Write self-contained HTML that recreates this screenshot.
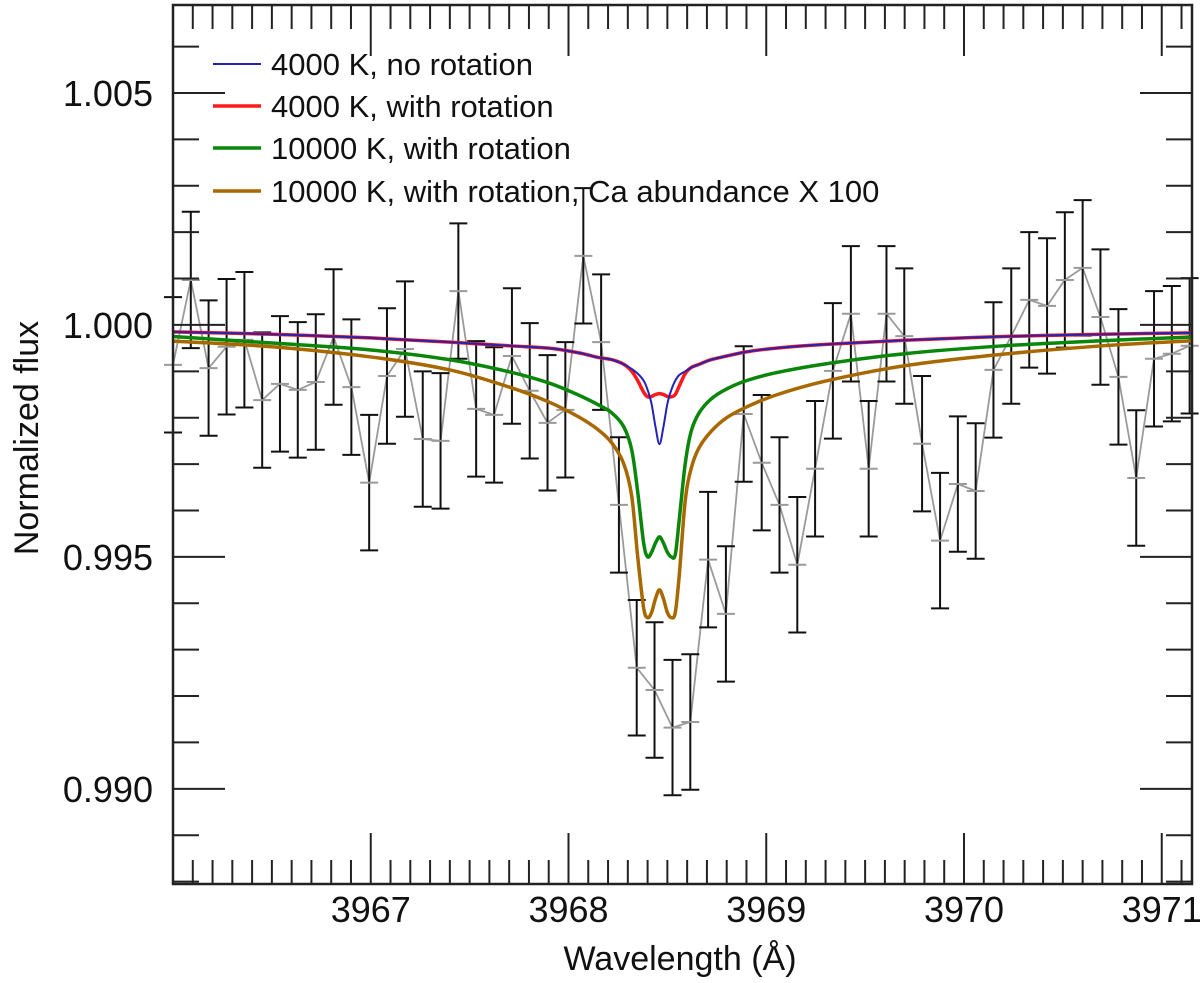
<!DOCTYPE html>
<html><head><meta charset="utf-8"><title>Normalized flux vs wavelength</title>
<style>
html,body{margin:0;padding:0;background:#fff;}
svg{display:block;font-family:"Liberation Sans",Arial,sans-serif;}
</style></head>
<body>
<svg id="chart" width="1200" height="983" viewBox="0 0 1200 983" xmlns="http://www.w3.org/2000/svg">
  <g id="data-layer"></g>
  <g id="model-layer"></g>
  <g id="axes-layer"></g>
  <g id="legend"></g>
  <text x="680" y="970" font-size="34" text-anchor="middle" fill="#111">Wavelength (Å)</text>
  <text transform="translate(38,438) rotate(-90)" font-size="34" text-anchor="middle" fill="#111">Normalized flux</text>
</svg>
<script>
// Observed data
const obsWave = [3966.000,3966.090,3966.180,3966.271,3966.361,3966.451,3966.541,3966.631,3966.722,3966.812,3966.902,3966.992,3967.082,3967.173,3967.263,3967.353,3967.443,3967.533,3967.624,3967.714,3967.804,3967.894,3967.984,3968.075,3968.165,3968.255,3968.345,3968.435,3968.526,3968.616,3968.706,3968.796,3968.886,3968.977,3969.067,3969.157,3969.247,3969.337,3969.428,3969.518,3969.608,3969.698,3969.788,3969.879,3969.969,3970.059,3970.149,3970.239,3970.330,3970.420,3970.510,3970.600,3970.690,3970.781,3970.871,3970.961,3971.051,3971.141];
const obsFlux = [0.99914,1.00097,0.99907,0.99953,0.99968,0.99838,0.99873,0.99860,0.99877,0.99974,0.99866,0.99660,0.99890,0.99948,0.99754,0.99750,1.00073,0.99819,0.99806,0.99933,0.99858,0.99789,0.99817,1.00149,0.99963,0.99612,0.99261,0.99213,0.99132,0.99144,0.99494,0.99377,0.99808,0.99703,0.99612,0.99483,0.99690,0.99901,1.00024,0.99690,1.00024,0.99976,0.99744,0.99535,0.99657,0.99642,0.99903,0.99976,1.00054,1.00041,1.00097,1.00123,1.00017,0.99888,0.99670,0.99927,0.99938,0.99955];
const obsErr = [0.00146,0.00147,0.00146,0.00146,0.00146,0.00146,0.00146,0.00146,0.00146,0.00146,0.00146,0.00146,0.00146,0.00146,0.00146,0.00146,0.00146,0.00146,0.00146,0.00146,0.00146,0.00146,0.00146,0.00146,0.00146,0.00146,0.00146,0.00146,0.00146,0.00146,0.00146,0.00146,0.00146,0.00146,0.00146,0.00146,0.00146,0.00146,0.00146,0.00146,0.00146,0.00146,0.00146,0.00146,0.00146,0.00146,0.00146,0.00146,0.00146,0.00146,0.00146,0.00146,0.00146,0.00146,0.00146,0.00146,0.00146,0.00146];
// Model spectra (shared wavelength grid)
const modelWave = [3966.0,3966.5,3967.0,3967.4,3967.7,3967.9,3968.05,3968.15,3968.22,3968.28,3968.32,3968.35,3968.38,3968.40,3968.42,3968.44,3968.46,3968.48,3968.50,3968.52,3968.54,3968.56,3968.59,3968.62,3968.66,3968.72,3968.80,3968.90,3969.05,3969.3,3969.7,3970.2,3970.7,3971.15];
const flux4000NoRot = [0.99985,0.99980,0.99972,0.99963,0.99955,0.99950,0.99940,0.99930,0.99925,0.99915,0.99905,0.99895,0.99880,0.99860,0.99830,0.99780,0.99743,0.99780,0.99830,0.99860,0.99880,0.99892,0.99900,0.99908,0.99915,0.99925,0.99933,0.99942,0.99950,0.99958,0.99967,0.99975,0.99980,0.99983];
const flux4000Rot = [0.99985,0.99980,0.99972,0.99963,0.99955,0.99950,0.99940,0.99930,0.99925,0.99915,0.99900,0.99880,0.99855,0.99845,0.99846,0.99850,0.99852,0.99850,0.99846,0.99845,0.99850,0.99868,0.99895,0.99908,0.99915,0.99925,0.99933,0.99942,0.99950,0.99958,0.99967,0.99975,0.99980,0.99983];
const flux10000Rot = [0.99975,0.99961,0.99946,0.99925,0.99899,0.99875,0.99849,0.99828,0.99810,0.99780,0.99730,0.99640,0.99530,0.99500,0.99510,0.99530,0.99543,0.99530,0.99510,0.99500,0.99505,0.99580,0.99700,0.99770,0.99810,0.99840,0.99862,0.99880,0.99897,0.99916,0.99938,0.99955,0.99966,0.99974];
const flux10000RotCa = [0.99965,0.99953,0.99931,0.99903,0.99866,0.99834,0.99802,0.99774,0.99745,0.99700,0.99630,0.99500,0.99390,0.99369,0.99380,0.99410,0.99429,0.99410,0.99380,0.99369,0.99380,0.99460,0.99620,0.99690,0.99735,0.99770,0.99800,0.99823,0.99849,0.99879,0.99912,0.99937,0.99955,0.99966];
// Axis tick labels
const xTickLabels = [3967,3968,3969,3970,3971];
const yTickLabels = ["0.990","0.995","1.000","1.005"];
const legendLabels = ["4000 K, no rotation","4000 K, with rotation","10000 K, with rotation","10000 K, with rotation, Ca abundance X 100"];

const NS = "http://www.w3.org/2000/svg";
const L = 173, R = 1192, T = 5, B = 884;
const xMin = 3966.0, xMax = 3971.153;
const yMin = 0.987948, yMax = 1.006897;
function xs(v){ return L + (v - xMin) / (xMax - xMin) * (R - L); }
function ys(v){ return B - (v - yMin) / (yMax - yMin) * (B - T); }
function mk(tag, attrs, parent){
  const e = document.createElementNS(NS, tag);
  for (const k in attrs) e.setAttribute(k, attrs[k]);
  parent.appendChild(e);
  return e;
}
const dataG = document.getElementById('data-layer');
const modelG = document.getElementById('model-layer');
const axesG = document.getElementById('axes-layer');
const legG = document.getElementById('legend');

let pts = obsWave.map((w,i)=> xs(w).toFixed(1)+','+ys(obsFlux[i]).toFixed(1)).join(' ');
const pl = mk('polyline', {points: pts, fill:'none', stroke:'#9a9a9a', 'stroke-width':'1.8'}, dataG);


obsWave.forEach((w,i)=>{
  const x = xs(w), y1 = ys(obsFlux[i] + obsErr[i]), y2 = ys(obsFlux[i] - obsErr[i]), yc = ys(obsFlux[i]);
  const g = mk('g', {}, dataG);
  
  
  mk('line', {x1:x, x2:x, y1:y1, y2:y2, stroke:'#111', 'stroke-width':'2'}, g);
  mk('line', {x1:x-9, x2:x+9, y1:y1, y2:y1, stroke:'#111', 'stroke-width':'2'}, g);
  mk('line', {x1:x-9, x2:x+9, y1:y2, y2:y2, stroke:'#111', 'stroke-width':'2'}, g);
  const c = mk('line', {x1:x-9, x2:x+9, y1:yc, y2:yc, stroke:'#9a9a9a', 'stroke-width':'2'}, dataG);
  
  
});

function smoothPath(xsArr, ysArr){
  const P = xsArr.map((w,i)=>[xs(w), ys(ysArr[i])]);
  let d = 'M'+P[0][0].toFixed(2)+','+P[0][1].toFixed(2);
  for (let i=0;i<P.length-1;i++){
    const p0 = P[Math.max(0,i-1)], p1 = P[i], p2 = P[i+1], p3 = P[Math.min(P.length-1,i+2)];
    const t = 1/6;
    const c1 = [p1[0]+(p2[0]-p0[0])*t, p1[1]+(p2[1]-p0[1])*t];
    const c2 = [p2[0]-(p3[0]-p1[0])*t, p2[1]-(p3[1]-p1[1])*t];
    d += ' C'+c1[0].toFixed(2)+','+c1[1].toFixed(2)+' '+c2[0].toFixed(2)+','+c2[1].toFixed(2)+' '+p2[0].toFixed(2)+','+p2[1].toFixed(2);
  }
  return d;
}
const series = [
  {vals: flux10000RotCa, color:'#a86800', w:3.5, name:'model-10000k-rotation-ca'},
  {vals: flux10000Rot, color:'#0a870a', w:3.5, name:'model-10000k-rotation'},
  {vals: flux4000Rot, color:'#ff1a1a', w:3.5, name:'model-4000k-rotation'},
  {vals: flux4000NoRot, color:'#2424b4', w:2, name:'model-4000k-no-rotation'}
];
series.forEach(s=>{
  const p = mk('path', {d: smoothPath(modelWave, s.vals), fill:'none', stroke:s.color, 'stroke-width':s.w, 'stroke-linejoin':'round'}, modelG);
  
  
});

const frame = mk('rect', {x:L, y:T, width:R-L, height:B-T, fill:'none', stroke:'#222', 'stroke-width':'2.5'}, axesG);


for (let k=0;k<=52;k++){
  const v = 3966.0 + k*0.1;
  if (v > xMax) break;
  const x = xs(v);
  const major = Math.abs(v - Math.round(v)) < 1e-6;
  const len = major ? 51 : 24;
  mk('line', {x1:x, x2:x, y1:B, y2:B-len, stroke:'#222', 'stroke-width':'2'}, axesG);
  mk('line', {x1:x, x2:x, y1:T, y2:T+len, stroke:'#222', 'stroke-width':'2'}, axesG);
}
xTickLabels.forEach(v=>{
  const t = mk('text', {x:xs(v), y:922, 'font-size':'36', 'text-anchor':'middle', fill:'#111'}, axesG);
  t.textContent = v;
  
  
});
for (let k=0;k<=19;k++){
  const v = 0.988 + k*0.001;
  if (v > yMax) break;
  const y = ys(v);
  const major = (k % 5) === 2;
  const len = major ? 52 : 26;
  mk('line', {x1:L, x2:L+len, y1:y, y2:y, stroke:'#222', 'stroke-width':'2'}, axesG);
  mk('line', {x1:R, x2:R-len, y1:y, y2:y, stroke:'#222', 'stroke-width':'2'}, axesG);
}
yTickLabels.forEach(v=>{
  const t = mk('text', {x:153, y:ys(parseFloat(v))+13, 'font-size':'36', 'text-anchor':'end', fill:'#111'}, axesG);
  t.textContent = v;
  
  
});

const legColors = ['#2424b4','#ff1a1a','#0a870a','#a86800'];
const legWidths = [2,3.5,3.5,3.5];
const legY = [64,106,148,191];
legendLabels.forEach((lab,i)=>{
  const g = mk('g', {}, legG);
  
  
  mk('line', {x1:213, x2:261, y1:legY[i], y2:legY[i], stroke:legColors[i], 'stroke-width':legWidths[i]}, g);
  const t = mk('text', {x:271, y:legY[i]+11, 'font-size':'31', fill:'#111'}, g);
  t.textContent = lab;
});
</script>
</body></html>
